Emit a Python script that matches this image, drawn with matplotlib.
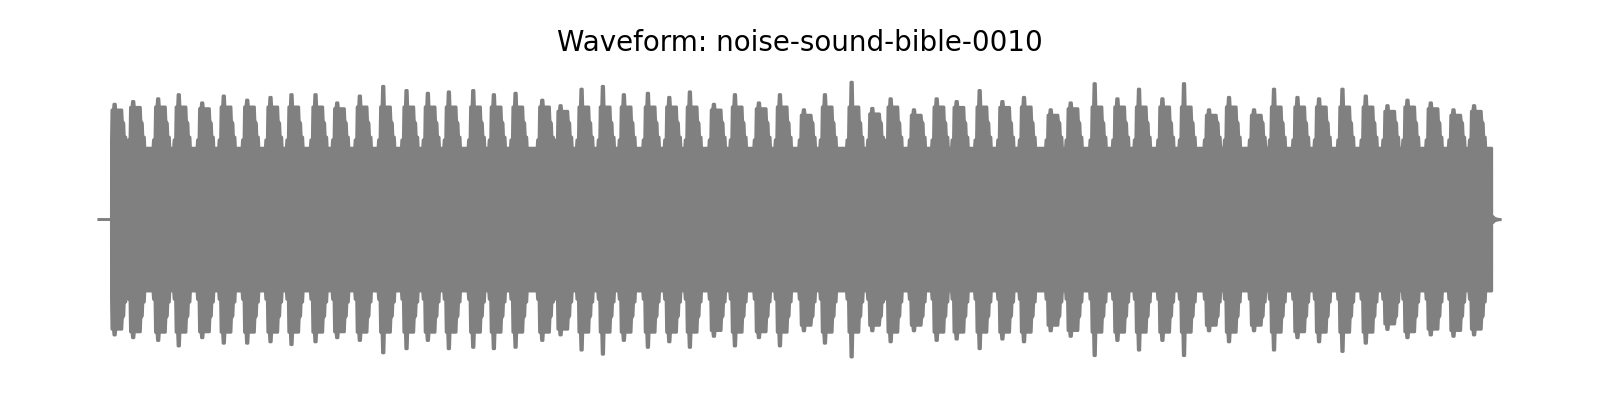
import numpy as np
import matplotlib
matplotlib.use("Agg")
import matplotlib.pyplot as plt

# ---------------- data ----------------
title = "Waveform: noise-sound-bible-0010"
duration = 3.30          # seconds, full plotted span
sound_start = 0.0292     # where the signal begins
sound_end = 3.2805       # where the signal stops
base_level = 0.52        # steady amplitude between hits
tail_level = 0.03        # small blip after the sound stops

hit_times = [0.035, 0.0787, 0.1376, 0.1861, 0.2413, 0.2921, 0.3473, 0.4022, 0.4516, 0.5082,
             0.5593, 0.6126, 0.6677, 0.7226, 0.7728, 0.8223, 0.8797, 0.9283, 0.9794, 1.0423,
             1.0854, 1.1349, 1.1851, 1.2345, 1.2911, 1.3415, 1.3900, 1.4466, 1.4961, 1.5526,
             1.6021, 1.6586, 1.7081, 1.7710, 1.8197, 1.8629, 1.9178, 1.9713, 2.0184, 2.0726,
             2.1261, 2.1770, 2.2399, 2.2870, 2.3435, 2.3970, 2.4479, 2.5030, 2.5539, 2.6128,
             2.6599, 2.7188, 2.7659, 2.8211, 2.8720, 2.9271, 2.9820, 3.0331, 3.0802, 3.1351,
             3.1886, 3.2371]

hit_upper = [0.84, 0.86, 0.88, 0.91, 0.85, 0.90, 0.87, 0.89, 0.91, 0.91,
             0.85, 0.90, 0.97, 0.94, 0.92, 0.93, 0.94, 0.91, 0.92, 0.87,
             0.83, 0.95, 0.97, 0.91, 0.92, 0.89, 0.93, 0.84, 0.91, 0.85,
             0.91, 0.80, 0.91, 1.00, 0.81, 0.88, 0.80, 0.88, 0.86, 0.94,
             0.86, 0.89, 0.80, 0.85, 0.99, 0.88, 0.95, 0.88, 0.99, 0.80,
             0.89, 0.80, 0.95, 0.89, 0.88, 0.95, 0.90, 0.83, 0.87, 0.85,
             0.80, 0.83]

hit_lower = [-0.84, -0.86, -0.88, -0.92, -0.86, -0.90, -0.90, -0.89, -0.91, -0.89,
             -0.86, -0.88, -0.97, -0.94, -0.88, -0.94, -0.93, -0.94, -0.93, -0.88,
             -0.84, -0.95, -0.98, -0.88, -0.93, -0.89, -0.93, -0.85, -0.92, -0.86,
             -0.92, -0.81, -0.90, -1.00, -0.81, -0.89, -0.81, -0.88, -0.87, -0.94,
             -0.87, -0.89, -0.81, -0.85, -0.99, -0.88, -0.95, -0.88, -0.99, -0.81,
             -0.89, -0.81, -0.95, -0.86, -0.89, -0.96, -0.90, -0.80, -0.86, -0.84,
             -0.85, -0.84]

# ---------------- style: shape of each hit (offsets in seconds) ----------------
px = duration / 1400.0
shape_offsets = [o * px for o in (-4.5, -4, -2.5, -2, -0.5, 0, 1.5, 2, 8, 8.5, 10, 10.5, 12, 12.5)]
line_color = "gray"


def hit_levels(p):
    s = np.sign(p)
    a = abs(p)
    sh = min(0.95 * a, 0.82)
    lv = [base_level, 0.58, 0.58, sh, sh, a, a, sh, sh, 0.72, 0.70, 0.60, 0.60, base_level]
    return [s * v for v in lv]


# ---------------- build envelope ----------------
t_pts = [0.0, sound_start - 1e-4, sound_start]
up = [0.0, 0.0, base_level]
lo = [0.0, 0.0, -base_level]
for t0, pu, pl in zip(hit_times, hit_upper, hit_lower):
    for off, vu, vl in zip(shape_offsets, hit_levels(pu), hit_levels(pl)):
        tt = max(t0 + off, sound_start)
        t_pts.append(tt); up.append(vu); lo.append(vl)
t_pts += [sound_end, sound_end + 1e-4, sound_end + 0.008, duration]
up += [base_level, tail_level, 0.008, 0.0]
lo += [-base_level, -tail_level, -0.008, 0.0]

t_pts = np.array(t_pts); up = np.array(up); lo = np.array(lo)
order = np.argsort(t_pts, kind="stable")
t_pts, up, lo = t_pts[order], up[order], lo[order]

fig = plt.figure(figsize=(16, 4), dpi=100)
ax = fig.add_subplot(111)
fig.subplots_adjust(left=0.0181, right=0.9813, bottom=0.073, top=0.829)
ax.fill_between(t_pts, lo, up, color=line_color, lw=0)
ax.plot(t_pts, up, color=line_color, lw=2)
ax.plot(t_pts, lo, color=line_color, lw=2)
ax.set_title(title, fontsize=20, pad=12.4)
ax.axis("off")
fig.savefig("out.png")
